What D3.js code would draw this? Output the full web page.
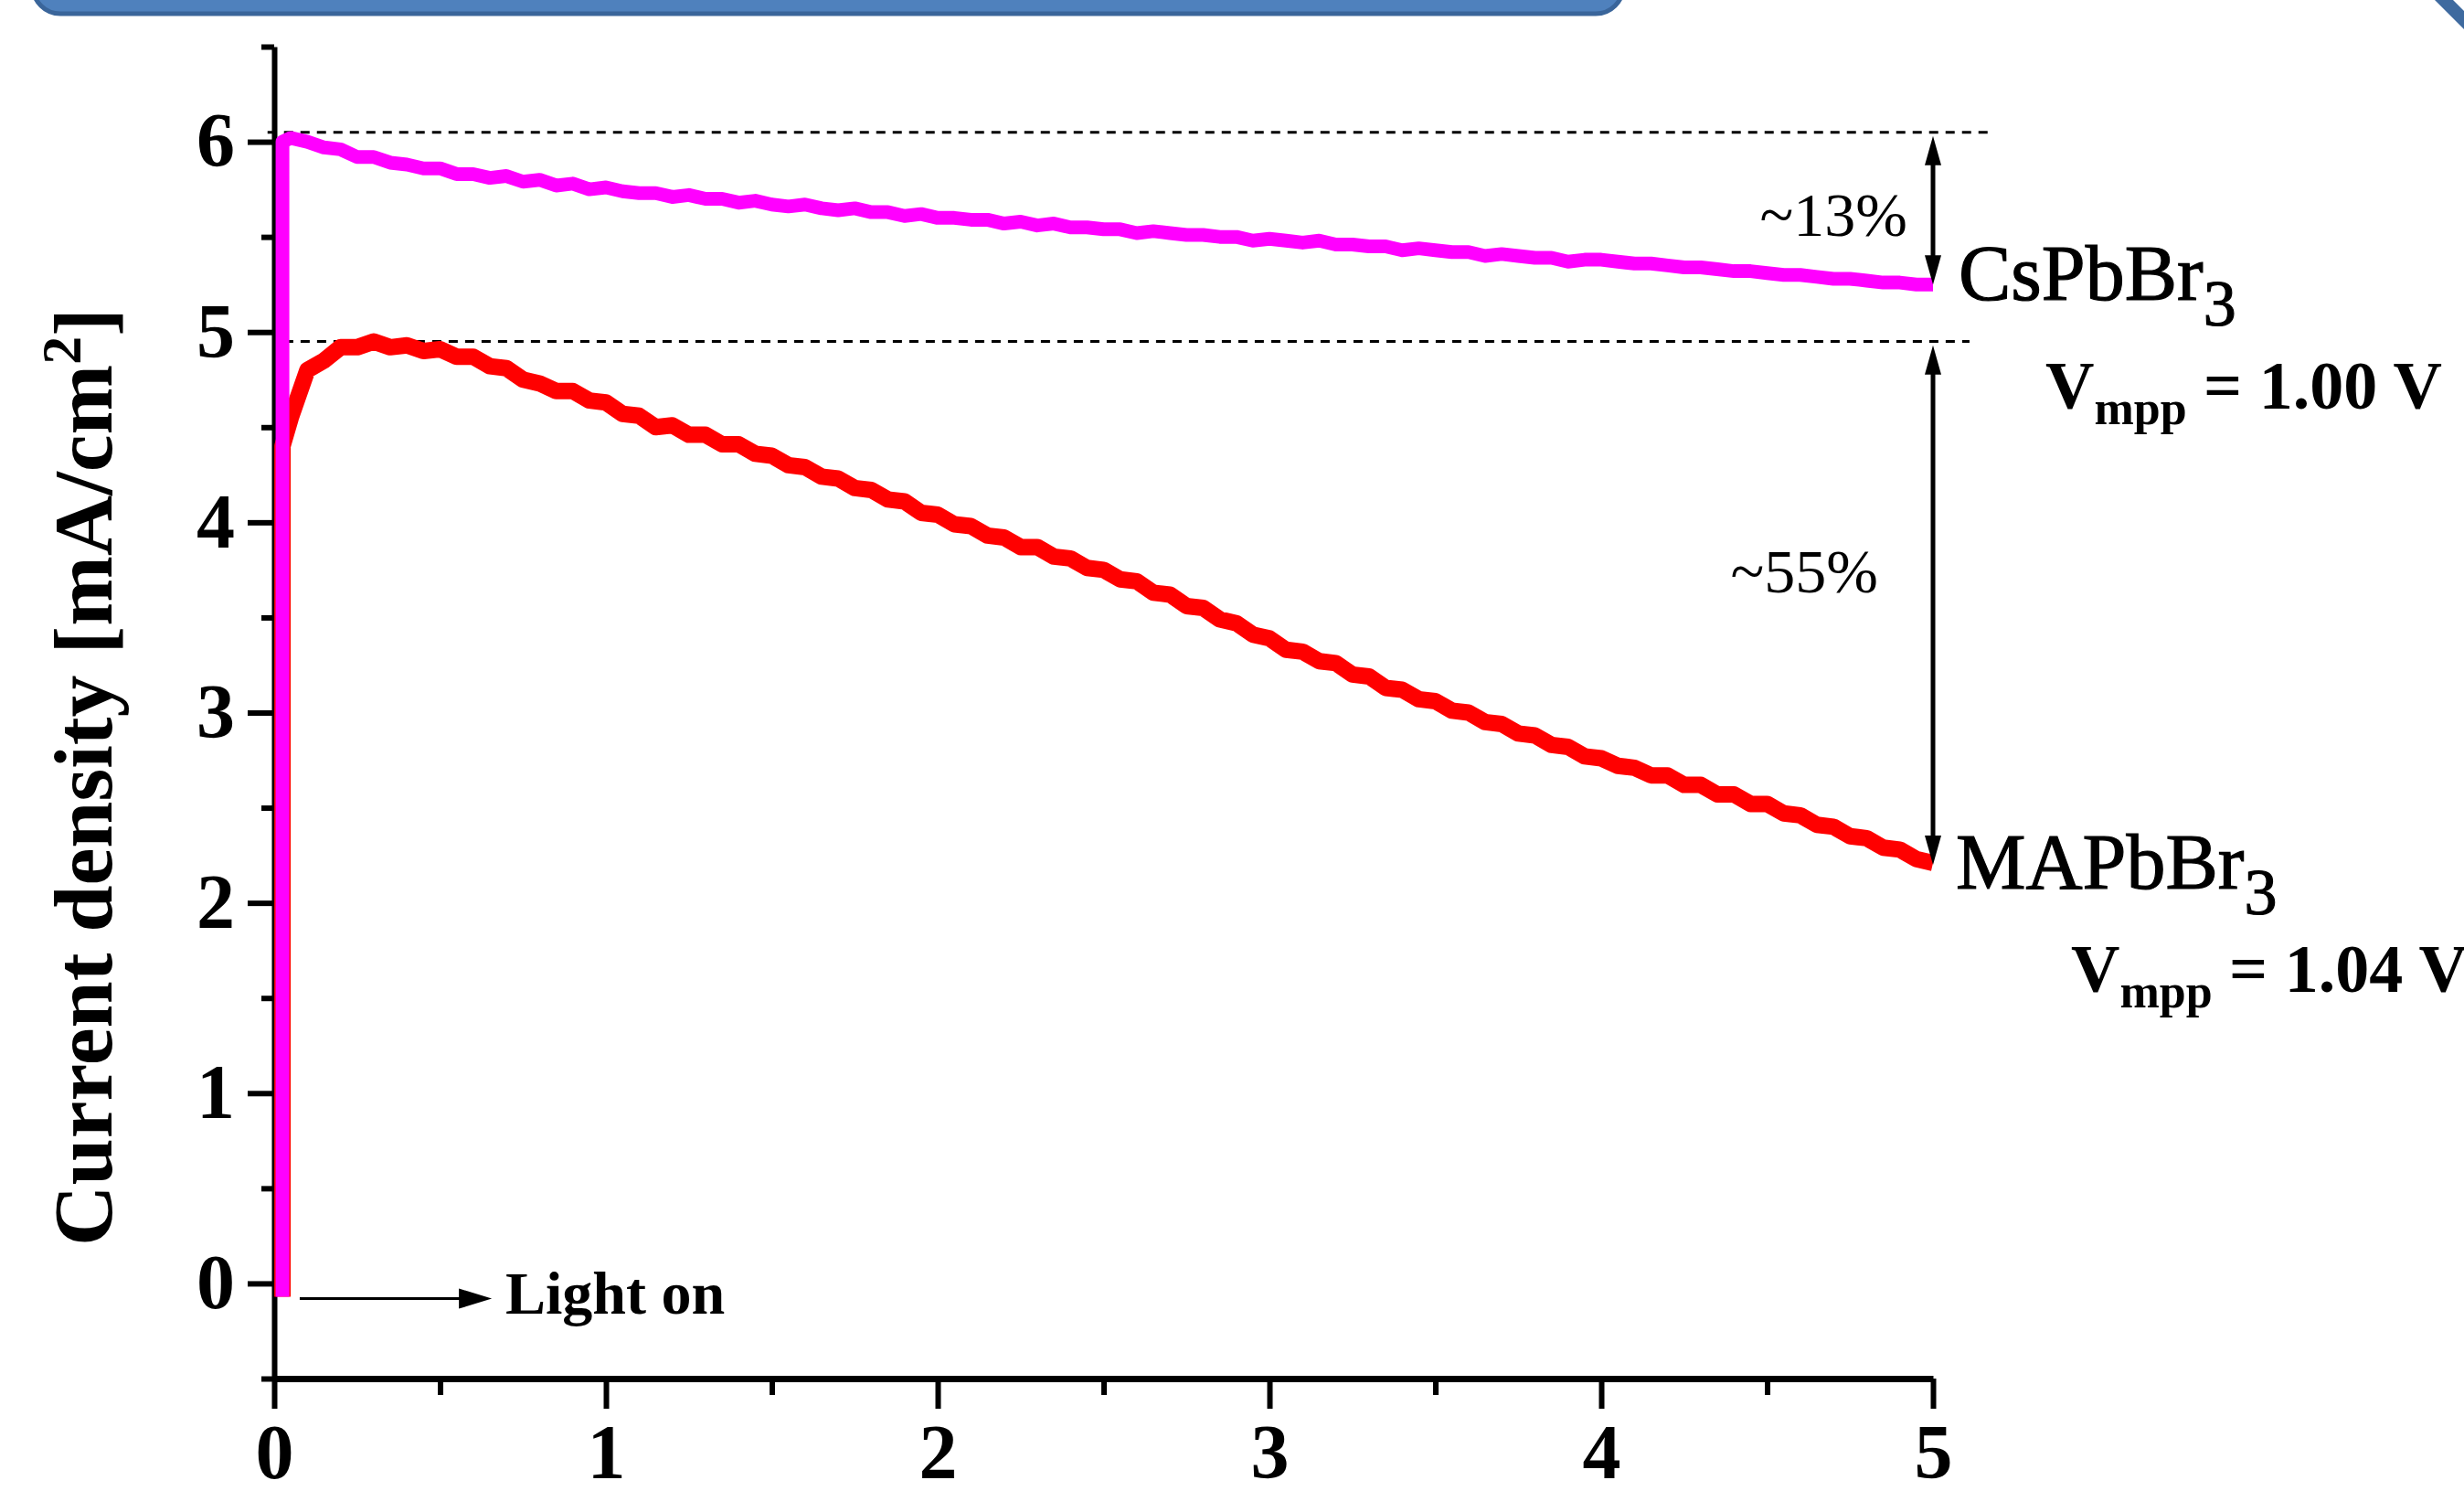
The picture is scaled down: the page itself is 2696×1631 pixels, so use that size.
<!DOCTYPE html>
<html>
<head>
<meta charset="utf-8">
<script src="https://cdn.jsdelivr.net/npm/d3@7"></script>
<style>
  body { margin: 0; background: #fff; }
  svg { display: block; }
  text { font-family: "Liberation Serif", "Times New Roman", serif; }
</style>
</head>
<body>
<svg id="svg" width="2696" height="1631"></svg>
<script>
// time in h, shared by both traces (first two points = light switched on)
var timeH = [0.025, 0.025,
  0.05, 0.10, 0.15, 0.20, 0.25, 0.30, 0.35, 0.40, 0.45, 0.50, 0.55, 0.60, 0.65, 0.70, 0.75, 0.80, 0.85, 0.90, 0.95, 1.00,
  1.05, 1.10, 1.15, 1.20, 1.25, 1.30, 1.35, 1.40, 1.45, 1.50, 1.55, 1.60, 1.65, 1.70, 1.75, 1.80, 1.85, 1.90, 1.95, 2.00,
  2.05, 2.10, 2.15, 2.20, 2.25, 2.30, 2.35, 2.40, 2.45, 2.50, 2.55, 2.60, 2.65, 2.70, 2.75, 2.80, 2.85, 2.90, 2.95, 3.00,
  3.05, 3.10, 3.15, 3.20, 3.25, 3.30, 3.35, 3.40, 3.45, 3.50, 3.55, 3.60, 3.65, 3.70, 3.75, 3.80, 3.85, 3.90, 3.95, 4.00,
  4.05, 4.10, 4.15, 4.20, 4.25, 4.30, 4.35, 4.40, 4.45, 4.50, 4.55, 4.60, 4.65, 4.70, 4.75, 4.80, 4.85, 4.90, 4.95, 5.00]

// CsPbBr3, V = 1.00 V
var jCs = [-0.07, 6.00,
  6.02, 6.00, 5.97, 5.96, 5.92, 5.92, 5.89, 5.88, 5.86, 5.86, 5.83, 5.83, 5.81, 5.82, 5.79, 5.80, 5.77, 5.78, 5.75, 5.76,
  5.74, 5.73, 5.73, 5.71, 5.72, 5.70, 5.70, 5.68, 5.69, 5.67, 5.66, 5.67, 5.65, 5.64, 5.65, 5.63, 5.63, 5.61, 5.62, 5.60,
  5.60, 5.59, 5.59, 5.57, 5.58, 5.56, 5.57, 5.55, 5.55, 5.54, 5.54, 5.52, 5.53, 5.52, 5.51, 5.51, 5.50, 5.50, 5.48, 5.49,
  5.48, 5.47, 5.48, 5.46, 5.46, 5.45, 5.45, 5.43, 5.44, 5.43, 5.42, 5.42, 5.40, 5.41, 5.40, 5.39, 5.39, 5.37, 5.38, 5.38,
  5.37, 5.36, 5.36, 5.35, 5.34, 5.34, 5.33, 5.32, 5.32, 5.31, 5.30, 5.30, 5.29, 5.28, 5.28, 5.27, 5.26, 5.26, 5.25, 5.25]

// MAPbBr3, V = 1.04 V
var jMA = [-0.07, 4.40,
  4.55, 4.80, 4.85, 4.92, 4.92, 4.95, 4.92, 4.93, 4.90, 4.91, 4.87, 4.87, 4.82, 4.81, 4.75, 4.73, 4.69, 4.69, 4.64, 4.63,
  4.57, 4.56, 4.50, 4.51, 4.46, 4.46, 4.41, 4.41, 4.36, 4.35, 4.30, 4.29, 4.24, 4.23, 4.18, 4.17, 4.12, 4.11, 4.05, 4.04,
  3.99, 3.98, 3.93, 3.92, 3.87, 3.87, 3.82, 3.81, 3.76, 3.75, 3.70, 3.69, 3.63, 3.62, 3.56, 3.55, 3.49, 3.47, 3.41, 3.39,
  3.33, 3.32, 3.27, 3.26, 3.20, 3.19, 3.13, 3.12, 3.07, 3.06, 3.01, 3.00, 2.95, 2.94, 2.89, 2.88, 2.83, 2.82, 2.77, 2.76,
  2.72, 2.71, 2.67, 2.67, 2.62, 2.62, 2.57, 2.57, 2.52, 2.52, 2.47, 2.46, 2.41, 2.40, 2.35, 2.34, 2.29, 2.28, 2.23, 2.21]

var xTicks = [0, 1, 2, 3, 4, 5]
var xMinor = [0.5, 1.5, 2.5, 3.5, 4.5]
var yTicks = [0, 1, 2, 3, 4, 5, 6]
var yMinor = [-0.5, 0.5, 1.5, 2.5, 3.5, 4.5, 5.5, 6.5]

// dashed reference levels and the drop arrows
var refLevel = [6.05, 4.95]
var refStart = [-0.02, 0.03]
var refEnd = [5.165, 5.11]
var dropTop = [6.03, 4.93]
var dropBottom = [5.25, 2.20]
var dropLabel = ["~13%", "~55%"]

var svg = d3.select("svg")
var x = d3.scaleLinear().domain([0, 5]).range([300, 2115])
var y = d3.scaleLinear().domain([-0.5, 6.5]).range([1508, 51])

// blue banner and corner bits of the slide
svg.append("rect")
  .attr("x", 36).attr("y", -80).attr("width", 1740).attr("height", 95)
  .attr("rx", 30)
  .attr("fill", "#4F81BD").attr("stroke", "#3A659A").attr("stroke-width", 5)
svg.append("path")
  .attr("d", "M2664,0 L2684,0 L2696,12 L2696,32 Z")
  .attr("fill", "#3E6A9F")

// dashed lines
refLevel.forEach(function(v, i) {
  svg.append("line")
    .attr("x1", x(refStart[i])).attr("x2", x(refEnd[i]))
    .attr("y1", y(v)).attr("y2", y(v))
    .attr("stroke", "#000").attr("stroke-width", 3)
    .attr("stroke-dasharray", "10,8")
})

// axes
function styleAxis(g, w) {
  g.attr("font-family", "'Liberation Serif', 'Times New Roman', serif")
    .attr("font-size", 84).attr("font-weight", "bold")
  g.selectAll(".domain").attr("stroke", "#000").attr("stroke-width", w)
  g.selectAll(".tick line").attr("stroke", "#000").attr("stroke-width", 6)
  g.selectAll(".tick text").attr("fill", "#000")
}

var gx = svg.append("g").attr("transform", "translate(0," + y(-0.5) + ")")
  .call(d3.axisBottom(x).tickValues(xTicks).tickSize(33).tickSizeOuter(0)
    .tickPadding(16).tickFormat(d3.format("d")))
styleAxis(gx, 7)

var gxm = svg.append("g").attr("transform", "translate(0," + y(-0.5) + ")")
  .call(d3.axisBottom(x).tickValues(xMinor).tickSize(18).tickFormat(""))
gxm.select(".domain").remove()
gxm.selectAll(".tick line").attr("stroke", "#000").attr("stroke-width", 6)

var gy = svg.append("g").attr("transform", "translate(" + x(0) + ",0)")
  .call(d3.axisLeft(y).tickValues(yTicks).tickSize(29).tickSizeOuter(0)
    .tickPadding(14).tickFormat(d3.format("d")))
styleAxis(gy, 6)

var gym = svg.append("g").attr("transform", "translate(" + x(0) + ",0)")
  .call(d3.axisLeft(y).tickValues(yMinor).tickSize(14).tickFormat(""))
gym.select(".domain").remove()
gym.selectAll(".tick line").attr("stroke", "#000").attr("stroke-width", 6)

// y title
var yt = svg.append("text")
  .attr("transform", "translate(122,850) rotate(-90)")
  .attr("text-anchor", "middle")
  .attr("font-size", 92).attr("font-weight", "bold")
yt.append("tspan").text("Current density [mA/cm")
yt.append("tspan").attr("font-size", 62).attr("dy", -34).text("2")
yt.append("tspan").attr("dy", 34).text("]")

// traces
var line = d3.line()
  .x(function(d) { return x(d[0]) })
  .y(function(d) { return y(d[1]) })

svg.append("path")
  .datum(d3.zip(timeH, jMA))
  .attr("d", line)
  .attr("fill", "none").attr("stroke", "#FF0000")
  .attr("stroke-width", 18).attr("stroke-linejoin", "round")

svg.append("path")
  .datum(d3.zip(timeH, jCs))
  .attr("d", line)
  .attr("fill", "none").attr("stroke", "#FF00FF")
  .attr("stroke-width", 15).attr("stroke-linejoin", "round")

// drop arrows
dropTop.forEach(function(t, i) {
  var ax = x(5), y1 = y(t), y2 = y(dropBottom[i])
  svg.append("line")
    .attr("x1", ax).attr("x2", ax).attr("y1", y1 + 20).attr("y2", y2 - 20)
    .attr("stroke", "#000").attr("stroke-width", 5)
  svg.append("path")
    .attr("d", "M" + ax + "," + y1 + "L" + (ax - 9) + "," + (y1 + 32) + "L" + (ax + 9) + "," + (y1 + 32) + "Z")
    .attr("fill", "#000")
  svg.append("path")
    .attr("d", "M" + ax + "," + y2 + "L" + (ax - 9) + "," + (y2 - 32) + "L" + (ax + 9) + "," + (y2 - 32) + "Z")
    .attr("fill", "#000")
})

svg.append("text").attr("x", 2087).attr("y", 258)
  .attr("text-anchor", "end").attr("font-size", 68).text(dropLabel[0])
svg.append("text").attr("x", 2055).attr("y", 648)
  .attr("text-anchor", "end").attr("font-size", 68).text(dropLabel[1])

// sample names
function compound(xp, yp, name) {
  var t = svg.append("text").attr("x", xp).attr("y", yp).attr("font-size", 86)
    .attr("stroke", "#000").attr("stroke-width", 1.2)
  t.append("tspan").text(name)
  t.append("tspan").attr("font-size", 72).attr("dy", 28).text("3")
}
compound(2143, 328, "CsPbBr")
compound(2140, 972, "MAPbBr")

function vmpp(xp, yp, v) {
  var t = svg.append("text").attr("x", xp).attr("y", yp)
    .attr("font-size", 74).attr("font-weight", "bold")
  t.append("tspan").text("V")
  t.append("tspan").attr("font-size", 52).attr("dy", 17).text("mpp")
  t.append("tspan").attr("dy", -17).text(" = " + v + " V")
}
vmpp(2238, 447, "1.00")
vmpp(2266, 1085, "1.04")

// light on marker
var lightX = [0.077, 0.656], lightY = -0.08
svg.append("line")
  .attr("x1", x(lightX[0])).attr("x2", x(lightX[1]) - 30)
  .attr("y1", y(lightY)).attr("y2", y(lightY))
  .attr("stroke", "#000").attr("stroke-width", 3)
svg.append("path")
  .attr("d", "M" + x(lightX[1]) + "," + y(lightY) + "L" + (x(lightX[1]) - 36) + "," + (y(lightY) - 11) +
    "L" + (x(lightX[1]) - 36) + "," + (y(lightY) + 11) + "Z")
  .attr("fill", "#000")
svg.append("text").attr("x", 553).attr("y", 1437)
  .attr("font-size", 66).attr("font-weight", "bold").text("Light on")
</script>
</body>
</html>
